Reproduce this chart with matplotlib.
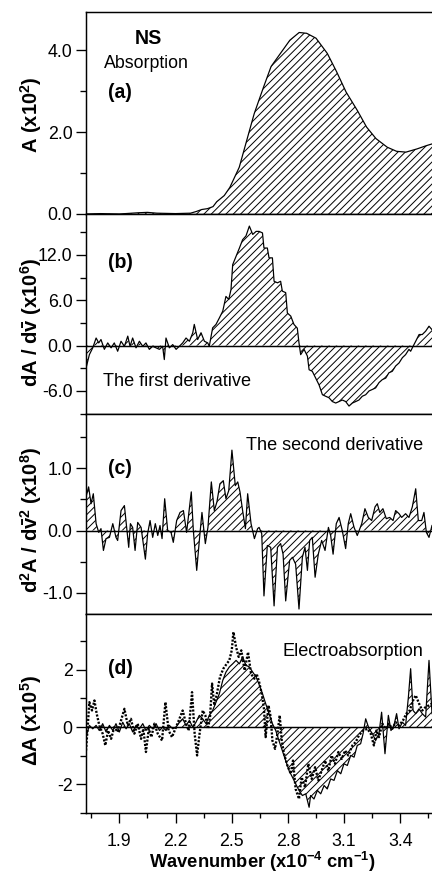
import matplotlib
matplotlib.use("Agg")
import matplotlib.pyplot as plt
from matplotlib.ticker import FixedLocator, FormatStrFormatter

plt.rcParams['font.family'] = ['Liberation Sans', 'DejaVu Sans']
plt.rcParams['mathtext.fontset'] = 'custom'
plt.rcParams['mathtext.rm'] = 'Liberation Sans:bold'
plt.rcParams['mathtext.bf'] = 'Liberation Sans:bold'
plt.rcParams['mathtext.it'] = 'Liberation Sans:bold'
plt.rcParams['mathtext.default'] = 'bf'
plt.rcParams['axes.unicode_minus'] = False
plt.rcParams['hatch.linewidth'] = 0.8

# (a) absorption
abs_x = [1.722, 1.80, 1.90, 2.00, 2.05, 2.10, 2.20, 2.28, 2.31, 2.34, 2.37, 2.40, 2.42,
         2.46, 2.49, 2.54, 2.59, 2.62, 2.67, 2.71, 2.76, 2.81, 2.86, 2.90, 2.95, 3.01,
         3.06, 3.11, 3.17, 3.22, 3.27, 3.33, 3.38, 3.43, 3.49, 3.54, 3.569]
abs_y = [0.0, 0.01, 0.0, 0.03, 0.04, 0.02, 0.01, 0.02, 0.06, 0.11, 0.13, 0.18, 0.30,
         0.45, 0.65, 1.14, 1.96, 2.45, 3.10, 3.60, 3.92, 4.24, 4.43, 4.41, 4.29, 3.92,
         3.47, 2.98, 2.53, 2.12, 1.84, 1.63, 1.53, 1.51, 1.59, 1.67, 1.71]

# (b) first derivative
d1_x = [1.722, 1.740, 1.758, 1.776, 1.790, 1.802, 1.820, 1.838, 1.856, 1.873, 1.891,
        1.909, 1.927, 1.945, 1.957, 1.971, 1.989, 2.007, 2.025, 2.042, 2.060, 2.078,
        2.096, 2.114, 2.131, 2.140, 2.149, 2.167, 2.185, 2.203, 2.220, 2.238, 2.256,
        2.274, 2.292, 2.300, 2.318, 2.336, 2.354, 2.372, 2.380, 2.398, 2.416, 2.434,
        2.452, 2.469, 2.484, 2.496, 2.505, 2.523, 2.541, 2.558, 2.576, 2.594, 2.612,
        2.630, 2.646, 2.664, 2.672, 2.690, 2.699, 2.717, 2.726, 2.744, 2.761, 2.770,
        2.788, 2.797, 2.815, 2.832, 2.850, 2.859, 2.868, 2.886, 2.904, 2.913, 2.930,
        2.948, 2.966, 2.984, 3.001, 3.019, 3.037, 3.055, 3.073, 3.090, 3.108, 3.126,
        3.144, 3.162, 3.179, 3.197, 3.215, 3.233, 3.251, 3.268, 3.286, 3.304, 3.322,
        3.339, 3.357, 3.375, 3.393, 3.411, 3.428, 3.446, 3.455, 3.468, 3.482, 3.500,
        3.517, 3.535, 3.553, 3.569]
d1_y = [-3.0, -1.2, -0.3, 1.0, 0.35, 0.8, -0.5, 0.35, -0.3, 0.35, -0.75,
        0.57, -0.1, 1.25, -0.1, 1.0, -0.3, 0.57, -0.1, 0.35, -0.5, -0.1,
        -0.3, -0.5, -0.1, -1.85, 1.0, -0.3, 0.13, -0.5, -0.1, 0.35, 1.0,
        0.57, 1.7, 2.8, 0.8, 1.7, 0.57, 0.35, -0.1, 2.34, 2.8, 3.66,
        4.55, 6.5, 6.1, 7.4, 10.7, 11.8, 12.9, 14.0, 14.5, 15.8, 14.7,
        15.1, 15.1, 14.9, 12.9, 12.9, 11.6, 11.6, 8.5, 8.3, 8.5, 7.2,
        7.0, 4.3, 3.9, 2.8, 2.3, 0.35, -1.2, -0.5, -1.4, -3.2, -3.4,
        -4.3, -5.2, -6.5, -6.7, -6.9, -7.4, -7.6, -7.4, -7.2, -7.4, -8.0,
        -7.6, -7.4, -7.2, -6.7, -6.5, -6.0, -5.8, -5.6, -4.9, -4.5, -4.3,
        -3.6, -3.4, -2.7, -2.3, -1.6, -1.2, -0.5, -0.75, -0.1, 0.57, 1.46,
        1.46, 1.9, 2.56, 2.1]

# (c) second derivative
d2_x = [1.722, 1.736, 1.749, 1.761, 1.776, 1.790, 1.802, 1.815, 1.829, 1.847, 1.865,
        1.882, 1.891, 1.909, 1.927, 1.939, 1.950, 1.959, 1.971, 1.984, 1.998, 2.016,
        2.039, 2.051, 2.064, 2.078, 2.092, 2.105, 2.117, 2.128, 2.142, 2.158, 2.176,
        2.188, 2.206, 2.224, 2.242, 2.259, 2.284, 2.295, 2.313, 2.327, 2.341, 2.359,
        2.373, 2.391, 2.407, 2.421, 2.437, 2.455, 2.469, 2.484, 2.501, 2.519, 2.532,
        2.544, 2.558, 2.573, 2.585, 2.603, 2.621, 2.638, 2.646, 2.660, 2.672, 2.690,
        2.708, 2.726, 2.744, 2.761, 2.774, 2.788, 2.809, 2.824, 2.841, 2.859, 2.877,
        2.891, 2.904, 2.916, 2.930, 2.945, 2.962, 2.980, 2.998, 3.016, 3.028, 3.041,
        3.058, 3.073, 3.090, 3.108, 3.122, 3.135, 3.153, 3.170, 3.194, 3.211, 3.229,
        3.247, 3.265, 3.277, 3.290, 3.307, 3.325, 3.343, 3.361, 3.375, 3.393, 3.407,
        3.428, 3.446, 3.464, 3.482, 3.496, 3.514, 3.526, 3.539, 3.553, 3.569]
d2_y = [0.54, 0.70, 0.43, 0.59, 0.11, -0.03, 0.03, -0.32, -0.13, -0.11, 0.11,
        -0.11, -0.16, 0.32, 0.40, 0.05, -0.27, 0.11, 0.05, -0.32, 0.13, 0.05,
        -0.46, -0.05, 0.16, -0.11, 0.11, -0.08, 0.08, -0.13, 0.51, 0.0, -0.03,
        -0.19, 0.16, 0.29, 0.32, -0.03, 0.62, 0.0, -0.64, -0.16, 0.29, -0.21,
        0.05, 0.78, 0.32, 0.46, 0.75, 0.80, 0.51, 0.64, 1.29, 0.72, 0.78,
        0.62, 0.32, 0.03, 0.59, 0.11, -0.13, 0.03, 0.05, -0.05, -1.05, -0.24,
        -0.27, -1.21, -0.27, -0.21, -0.38, -1.13, -0.48, -0.43, -0.54, -1.26, -0.43,
        -0.27, -0.64, -0.16, -0.11, -0.75, -0.38, -0.16, -0.32, 0.05, -0.08, -0.38,
        0.11, 0.21, 0.0, -0.29, 0.11, 0.27, 0.05, -0.08, 0.11, 0.35, 0.21,
        0.16, 0.38, 0.43, 0.29, 0.35, 0.19, 0.21, 0.16, 0.32, 0.27, 0.21,
        0.27, 0.21, 0.38, 0.67, 0.16, 0.16, 0.29, -0.03, -0.11, 0.08]

# (d) electroabsorption, measured (solid) and fit (dotted)
ea_x = [1.722, 1.740, 1.758, 1.776, 1.793, 1.811, 1.829, 1.847, 1.865, 1.882, 1.900,
        1.918, 1.936, 1.953, 1.971, 1.989, 2.007, 2.025, 2.042, 2.060, 2.078, 2.096,
        2.114, 2.131, 2.149, 2.167, 2.185, 2.203, 2.220, 2.238, 2.256, 2.274, 2.292,
        2.309, 2.327, 2.345, 2.363, 2.380, 2.398, 2.416, 2.434, 2.452, 2.469, 2.487,
        2.505, 2.523, 2.541, 2.558, 2.576, 2.594, 2.612, 2.630, 2.646, 2.664, 2.681,
        2.699, 2.717, 2.735, 2.752, 2.770, 2.788, 2.806, 2.824, 2.841, 2.859, 2.877,
        2.895, 2.913, 2.921, 2.939, 2.957, 2.975, 2.993, 3.010, 3.028, 3.046, 3.064,
        3.082, 3.099, 3.117, 3.135, 3.153, 3.170, 3.188, 3.201, 3.215, 3.233, 3.251,
        3.268, 3.286, 3.300, 3.318, 3.336, 3.350, 3.366, 3.380, 3.393, 3.411, 3.428,
        3.443, 3.455, 3.468, 3.482, 3.500, 3.517, 3.535, 3.553, 3.569]
ea_y = [-0.35, 0.06, -0.06, 0.06, -0.12, 0.12, -0.17, 0.06, -0.12, 0.12, -0.17,
        0.17, -0.06, 0.12, -0.17, 0.06, -0.06, 0.12, -0.12, 0.06, -0.06, 0.12,
        -0.12, 0.0, -0.12, 0.06, -0.06, 0.0, 0.17, 0.29, 0.06, 0.23, 0.0,
        0.17, 0.41, 0.29, 0.12, 0.41, 0.58, 0.87, 1.17, 1.63, 1.92, 2.10,
        2.21, 2.33, 2.21, 2.45, 2.16, 2.10, 1.92, 1.75, 1.49, 1.17, 0.82,
        0.47, 0.12, -0.12, -0.47, -0.82, -1.17, -1.52, -1.75, -1.98, -2.21, -2.39,
        -2.33, -2.80, -2.39, -2.51, -2.21, -2.33, -2.04, -2.16, -1.81, -1.86, -1.52,
        -1.63, -1.28, -1.34, -0.99, -1.05, -0.64, -0.58, -0.23, 0.29, -0.06, -0.23,
        -0.47, -0.23, 0.52, -0.93, 0.41, -0.12, 0.06, 0.47, -0.06, 0.17, 0.06,
        1.05, 2.04, 0.58, 0.47, 0.64, 0.47, 0.35, 2.33, 0.47]

fit_x = [1.722, 1.731, 1.740, 1.754, 1.767, 1.779, 1.793, 1.811, 1.825, 1.840, 1.856,
         1.873, 1.891, 1.909, 1.927, 1.945, 1.962, 1.980, 1.998, 2.016, 2.028, 2.042,
         2.057, 2.071, 2.087, 2.105, 2.128, 2.146, 2.163, 2.181, 2.199, 2.217, 2.238,
         2.256, 2.270, 2.288, 2.302, 2.315, 2.327, 2.345, 2.359, 2.373, 2.384, 2.395,
         2.407, 2.421, 2.437, 2.455, 2.473, 2.487, 2.500, 2.509, 2.523, 2.537, 2.551,
         2.569, 2.587, 2.603, 2.621, 2.633, 2.646, 2.660, 2.672, 2.681, 2.696, 2.708,
         2.717, 2.731, 2.744, 2.756, 2.767, 2.779, 2.797, 2.815, 2.827, 2.841, 2.859,
         2.873, 2.891, 2.909, 2.927, 2.945, 2.962, 2.980, 2.998, 3.016, 3.033, 3.051,
         3.069, 3.087, 3.105, 3.122, 3.144, 3.162, 3.179, 3.201, 3.224, 3.242, 3.259,
         3.272, 3.286, 3.304, 3.322, 3.339, 3.357, 3.375, 3.393, 3.414, 3.432, 3.450,
         3.468, 3.482, 3.500, 3.517, 3.535, 3.553, 3.569]
fit_y = [-0.82, 0.0, 0.87, 0.58, 0.93, 0.47, 0.06, -0.23, -0.64, -0.12, -0.41,
         0.0, -0.17, 0.23, 0.64, 0.06, 0.29, -0.23, 0.12, -0.41, -0.06, -0.87,
         -0.06, -0.35, 0.12, -0.23, -0.47, 0.87, -0.12, -0.35, -0.06, 0.23, 0.58,
         0.12, -0.12, 1.22, -0.23, -0.99, -0.29, 0.58, 0.41, -0.06, 0.35, 1.52,
         0.76, 1.17, 1.75, 2.04, 2.21, 2.33, 2.68, 3.32, 2.80, 2.45, 2.68,
         1.98, 2.62, 1.86, 1.69, 1.86, 1.58, 1.17, 0.64, -0.35, 0.76, 0.35,
         -0.47, -0.76, -0.23, 0.41, -0.47, -0.93, -1.34, -1.63, -1.17, -2.16, -2.51,
         -1.75, -2.10, -1.28, -1.81, -1.40, -1.86, -1.52, -1.17, -1.52, -0.99, -1.28,
         -0.87, -1.11, -0.82, -0.99, -0.64, -0.52, -0.29, -0.12, -0.06, -0.23, -0.64,
         -0.12, -0.35, 0.12, -0.06, 0.12, -0.06, 0.17, 0.06, 0.23, 0.47, 0.58,
         0.93, 1.11, 0.82, 0.58, 0.70, 0.76, 0.82]

xticks_major = [1.9, 2.2, 2.5, 2.8, 3.1, 3.4]
xticks_minor = [1.75, 2.05, 2.35, 2.65, 2.95, 3.25, 3.55]

W, H = 432, 876
fig = plt.figure(figsize=(W / 88, H / 88), dpi=88)

# panel boxes in pixels: top, bottom
boxes = [(12, 214), (214, 414), (414, 614), (614, 813)]
axes = []
for top, bot in boxes:
    ax = fig.add_axes([86 / W, 1 - bot / H, 1 - 86 / W, (bot - top) / H])
    axes.append(ax)

ax_a, ax_b, ax_c, ax_d = axes
HATCH = '////'

ax_a.plot(abs_x, abs_y, color='black', lw=1.0)
ax_a.fill_between(abs_x, abs_y, 0, facecolor='none', edgecolor='black', hatch=HATCH, lw=0)

ax_b.plot(d1_x, d1_y, color='black', lw=1.0)
ax_b.fill_between(d1_x, d1_y, 0, facecolor='none', edgecolor='black', hatch=HATCH, lw=0)

ax_c.plot(d2_x, d2_y, color='black', lw=1.0)
ax_c.fill_between(d2_x, d2_y, 0, facecolor='none', edgecolor='black', hatch=HATCH, lw=0)

ax_d.fill_between(ea_x, ea_y, 0, facecolor='none', edgecolor='black', hatch=HATCH, lw=0)
ax_d.plot(ea_x, ea_y, color='black', lw=1.0)
ax_d.plot(fit_x, fit_y, color='black', lw=1.9, linestyle=(0, (0.9, 0.7)))

for ax in (ax_b, ax_c, ax_d):
    ax.axhline(0, color='black', lw=1.2)

ylims = [(0, 4.93), (-9.05, 17.4), (-1.34, 1.87), (-3.0, 3.95)]
ymaj = [[0, 2, 4], [-6, 0, 6, 12], [-1, 0, 1], [-2, 0, 2]]
ymin = [[1, 3], [-9, -3, 3, 9, 15], [-0.5, 0.5, 1.5], [-3, -1, 1, 3]]
yfmt = ['%.1f', '%.1f', '%.1f', '%d']

for ax, yl, ma, mi, fm in zip(axes, ylims, ymaj, ymin, yfmt):
    ax.set_xlim(1.722, 3.569)
    ax.set_ylim(*yl)
    ax.xaxis.set_major_locator(FixedLocator(xticks_major))
    ax.xaxis.set_minor_locator(FixedLocator(xticks_minor))
    ax.yaxis.set_major_locator(FixedLocator(ma))
    ax.yaxis.set_minor_locator(FixedLocator(mi))
    ax.yaxis.set_major_formatter(FormatStrFormatter(fm))
    ax.tick_params(axis='x', which='major', direction='out', length=8, width=1.1,
                   labelsize=14.5, pad=8, labelbottom=(ax is ax_d))
    ax.tick_params(axis='x', which='minor', direction='out', length=4, width=1.1)
    ax.tick_params(axis='y', which='major', direction='out', length=8, width=1.1,
                   labelsize=14.5, pad=3)
    ax.tick_params(axis='y', which='minor', direction='out', length=5, width=1.1)
    for s in ax.spines.values():
        s.set_linewidth(1.2)
    ax.spines['right'].set_visible(False)

def px(x, y):
    return x / W, 1 - y / H

# y labels
fig.text(*px(31, 115), r'A (x10$^{2}$)', rotation=90, ha='center', va='center',
         fontsize=16.5, fontweight='bold')
fig.text(*px(31, 322), r'dA / d$\bar{v}$ (x10$^{6}$)', rotation=90, ha='center',
         va='center', fontsize=16.5, fontweight='bold')
fig.text(*px(31, 520), r'd$^{2}$A / d$\bar{v}^{2}$ (x10$^{8}$)', rotation=90,
         ha='center', va='center', fontsize=16.5, fontweight='bold')
fig.text(*px(31, 720), r'ΔA (x10$^{5}$)', rotation=90, ha='center', va='center',
         fontsize=16.5, fontweight='bold')
fig.text(*px(262, 862), r'Wavenumber (x10$^{-4}$ cm$^{-1}$)', ha='center', va='center',
         fontsize=15, fontweight='bold')

# panel annotations
fig.text(*px(148, 38), 'NS', ha='center', va='center', fontsize=16, fontweight='bold')
fig.text(*px(104, 63), 'Absorption', ha='left', va='center', fontsize=14.5)
fig.text(*px(108, 92), '(a)', ha='left', va='center', fontsize=16, fontweight='bold')
fig.text(*px(108, 263), '(b)', ha='left', va='center', fontsize=16, fontweight='bold')
fig.text(*px(103, 382), 'The first derivative', ha='left', va='center', fontsize=14.8)
fig.text(*px(423, 446), 'The second derivative', ha='right', va='center', fontsize=14.8)
fig.text(*px(108, 468), '(c)', ha='left', va='center', fontsize=16, fontweight='bold')
fig.text(*px(423, 652), 'Electroabsorption', ha='right', va='center', fontsize=14.8)
fig.text(*px(108, 668), '(d)', ha='left', va='center', fontsize=16, fontweight='bold')

fig.savefig('out.png', dpi=88)
